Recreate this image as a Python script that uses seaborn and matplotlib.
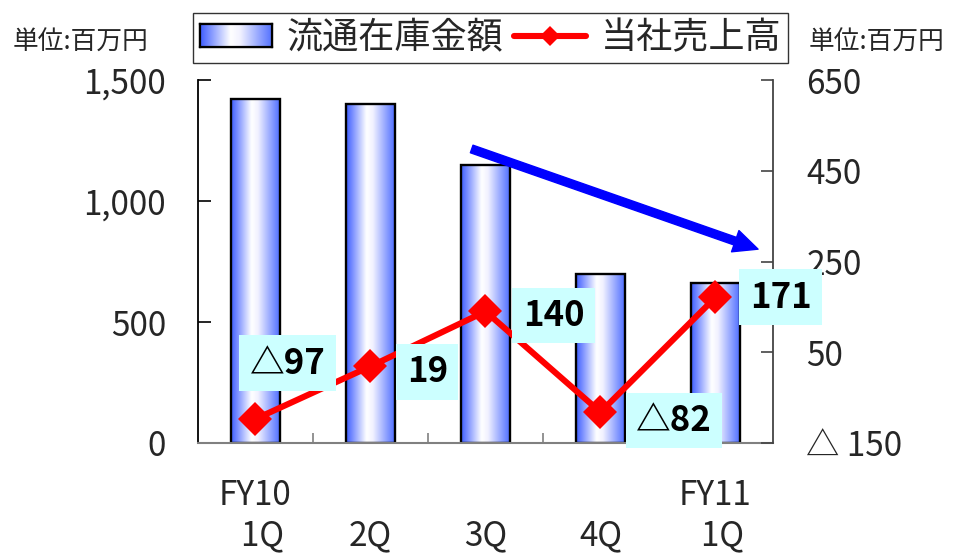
import numpy as np
import pandas as pd
import matplotlib
matplotlib.use("Agg")
import matplotlib.pyplot as plt
import seaborn as sns
from matplotlib.colors import LinearSegmentedColormap
from matplotlib.lines import Line2D
from matplotlib.patches import Patch, FancyArrowPatch
from matplotlib.ticker import FuncFormatter

# ---- data -------------------------------------------------------------
quarters = ["FY10\n  1Q", "\n2Q", "\n3Q", "\n4Q", "FY11\n  1Q"]
inventory = [1420, 1402, 1150, 700, 660]          # 流通在庫金額 (left axis)
sales = [-97, 19, 140, -82, 171]                  # 当社売上高 (right axis)
left_ticks = [0, 500, 1000, 1500]
right_ticks = [-150, 50, 250, 450, 650]
inventory_label = "流通在庫金額"
sales_label = "当社売上高"
unit_label = "単位:百万円"

# ---- style ------------------------------------------------------------
sns.set_theme(style="white")
plt.rcParams["font.family"] = ["Noto Sans CJK JP", "DejaVu Sans"]

W, H = 956, 553
fig = plt.figure(figsize=(W / 100, H / 100), dpi=100)
ax = fig.add_axes([198 / W, 1 - 443 / H, 575 / W, 363 / H])

bar_cmap = LinearSegmentedColormap.from_list(
    "barfade",
    [(0.0, "#3d5cff"), (0.42, "#ffffff"), (0.55, "#f2f2ff"), (1.0, "#4f6eff")],
)
grad = np.linspace(0, 1, 256).reshape(1, -1)

# ---- bars -------------------------------------------------------------
df = pd.DataFrame({"quarter": quarters, "inventory": inventory, "sales": sales})
sns.barplot(data=df, x="quarter", y="inventory", ax=ax, width=0.42,
            color="#3d5cff", edgecolor="black", linewidth=1.7, zorder=2)
for p in ax.patches:
    p.set_facecolor("none")
    x0, y0, w, h = p.get_x(), p.get_y(), p.get_width(), p.get_height()
    im = ax.imshow(grad, extent=[x0, x0 + w, y0, y0 + h], aspect="auto",
                   cmap=bar_cmap, interpolation="bicubic", zorder=1.9)
    im.set_clip_path(p)

ax.set_xlim(-0.5, 4.5)
ax.set_ylim(0, 1500)
ax.set_yticks(left_ticks)
ax.yaxis.set_major_formatter(FuncFormatter(lambda v, _: f"{int(v):,}"))
ax.set_xlabel("")
ax.set_ylabel("")
ax.set_xticks(range(len(quarters)))
ax.set_xticklabels(quarters, fontsize=24, linespacing=1.2)
ax.set_xticks([0.5, 1.5, 2.5, 3.5], minor=True)
ax.tick_params(axis="x", which="major", length=0, pad=25)
ax.tick_params(axis="x", which="minor", direction="in", length=7,
               width=1.2, color="#808080", bottom=True)
ax.tick_params(axis="y", direction="in", length=9, width=1.2,
               color="black", labelsize=24, pad=23, left=True)
ax.spines["top"].set_visible(False)
ax.spines["right"].set_visible(False)
ax.spines["left"].set_color("black")
ax.spines["left"].set_linewidth(1.3)
ax.spines["bottom"].set_color("#808080")
ax.spines["bottom"].set_linewidth(1.5)

# ---- sales line -------------------------------------------------------
ax2 = ax.twinx()
sns.lineplot(x=np.arange(len(sales)), y=sales, ax=ax2, color="#ff0000",
             linewidth=4.4, marker="D", markersize=17, markeredgewidth=0,
             zorder=3)
ax.set_xlim(-0.5, 4.5)
ax2.set_ylim(-150, 650)
ax2.set_yticks(right_ticks)
ax2.yaxis.set_major_formatter(
    FuncFormatter(lambda v, _: f"△ {abs(int(v))}" if v < 0 else f"{int(v)}"))
ax2.set_ylabel("")
ax2.tick_params(axis="y", direction="in", length=9, width=1.2,
                color="#444444", labelsize=24, pad=24, right=True)
for s in ("top", "left", "bottom"):
    ax2.spines[s].set_visible(False)
ax2.spines["right"].set_color("#444444")
ax2.spines["right"].set_linewidth(1.3)

# value labels in cyan boxes
offsets = [(23, 40), (41, -4), (49, -3), (53, -6), (47, 0)]
for i, (v, off) in enumerate(zip(sales, offsets)):
    txt = f"△{abs(v)}" if v < 0 else f"{v}"
    ax2.annotate(txt, xy=(i, v), xytext=off, textcoords="offset points",
                 ha="center", va="center", fontsize=25, fontweight="bold",
                 color="black", zorder=6, annotation_clip=False,
                 bbox=dict(boxstyle="square,pad=0.3", facecolor="#ccffff",
                           edgecolor="none"))

# downward trend arrow
arrow = FancyArrowPatch(
    posA=(0.476, 0.810), posB=(0.974, 0.534), transform=ax2.transAxes,
    arrowstyle="simple,head_length=1.45,head_width=1.35,tail_width=0.48",
    mutation_scale=12, color="#0000ff", shrinkA=0, shrinkB=0, zorder=5,
    clip_on=False)
ax2.add_patch(arrow)

# ---- unit captions ----------------------------------------------------
fig.text(13 / W, 1 - 43 / H, unit_label, fontsize=18.5, ha="left", va="center")
fig.text(809 / W, 1 - 43 / H, unit_label, fontsize=18.5, ha="left", va="center")

# ---- legend -----------------------------------------------------------
handles = [
    Patch(facecolor="none", edgecolor="black", linewidth=1.6),
    Line2D([], [], color="#ff0000", linewidth=4.4, marker="D", markersize=10,
           markeredgewidth=0, solid_capstyle="round"),
]
leg = fig.legend(handles, [inventory_label, sales_label], ncol=2,
                 loc="center", bbox_to_anchor=(490.5 / W, 1 - 38 / H),
                 frameon=True, fancybox=False, edgecolor="#333333",
                 framealpha=1, fontsize=26, handlelength=2.0,
                 handleheight=0.6, handletextpad=0.4, columnspacing=0.3,
                 borderpad=0.2, borderaxespad=0, numpoints=1)
leg.get_frame().set_linewidth(1.0)

# gradient fill for the legend's bar swatch
fig.canvas.draw()
renderer = fig.canvas.get_renderer()
bb = leg.legend_handles[0].get_window_extent(renderer)
bbf = bb.transformed(fig.transFigure.inverted())
gax = fig.add_axes(bbf.bounds, zorder=10)
gax.imshow(grad, aspect="auto", cmap=bar_cmap, extent=[0, 1, 0, 1],
           interpolation="bicubic")
gax.set_xticks([])
gax.set_yticks([])
for s in gax.spines.values():
    s.set_color("black")
    s.set_linewidth(1.6)

fig.savefig("out.png", dpi=100)
